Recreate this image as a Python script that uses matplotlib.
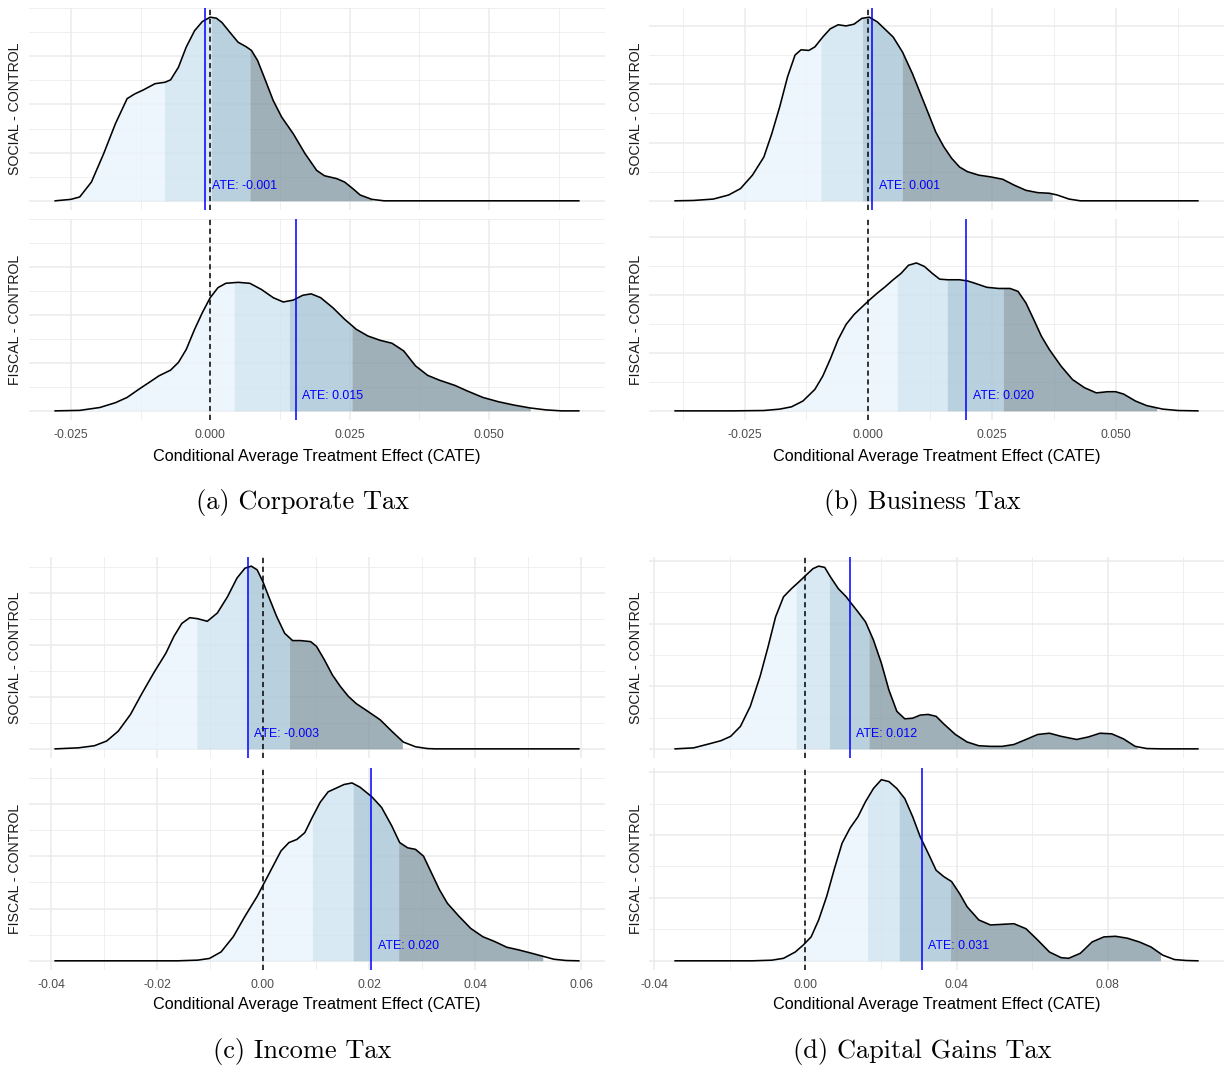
import numpy as np
import matplotlib
matplotlib.use("Agg")
import matplotlib.pyplot as plt

# ---------------- data ----------------
# (a) Corporate Tax
corp_soc_x = [-0.0278, -0.0250, -0.0234, -0.0213, -0.0191, -0.0170, -0.0149, -0.0135, -0.0120, -0.0099,
              -0.0081, -0.0071, -0.0057, -0.0043, -0.0028, -0.0014, 0.0000, 0.0011, 0.0021, 0.0035,
              0.0050, 0.0064, 0.0074, 0.0085, 0.0099, 0.0113, 0.0128, 0.0149, 0.0170, 0.0191,
              0.0205, 0.0227, 0.0241, 0.0255, 0.0269, 0.0290, 0.0312, 0.0661]
corp_soc_d = [0, 0.3, 0.8, 3.9, 9.8, 16.0, 21.2, 22.2, 23.0, 24.3,
              24.6, 25.1, 27.7, 31.9, 35.3, 37.2, 38.1, 37.9, 37.0, 35.0,
              32.9, 32.0, 31.2, 29.1, 25.0, 20.8, 17.4, 13.9, 9.8, 6.3,
              5.2, 4.6, 3.9, 2.6, 1.2, 0.3, 0, 0]
corp_soc_q = [-0.0082, 0.0002, 0.0071]
corp_soc_end = 0.0290
corp_soc_ate = -0.0009

corp_fis_x = [-0.0278, -0.0234, -0.0198, -0.0170, -0.0149, -0.0128, -0.0106, -0.0092, -0.0071, -0.0057,
              -0.0043, -0.0028, -0.0014, 0.0000, 0.0014, 0.0028, 0.0050, 0.0071, 0.0092, 0.0113,
              0.0131, 0.0149, 0.0166, 0.0181, 0.0198, 0.0220, 0.0241, 0.0262, 0.0283, 0.0305,
              0.0326, 0.0347, 0.0368, 0.0390, 0.0411, 0.0439, 0.0460, 0.0489, 0.0517, 0.0545,
              0.0574, 0.0602, 0.0630, 0.0661]
corp_fis_d = [0, 0.1, 0.7, 1.7, 2.8, 4.5, 6.2, 7.3, 8.5, 10.1,
              12.8, 17.0, 20.5, 23.6, 25.7, 26.6, 26.8, 26.6, 25.3, 23.6,
              22.7, 23.1, 24.1, 24.4, 23.6, 21.5, 19.1, 17.0, 15.6, 14.7,
              14.1, 12.5, 9.4, 7.4, 6.4, 5.3, 4.2, 2.8, 1.9, 1.2,
              0.6, 0.2, 0, 0]
corp_fis_q = [0.0043, 0.0142, 0.0254]
corp_fis_end = 0.0574
corp_fis_ate = 0.0153

corp_ticks = [-0.025, 0.0, 0.025, 0.05]
corp_ticklabels = ["-0.025", "0.000", "0.025", "0.050"]
corp_minor = [-0.0125, 0.0125, 0.0375, 0.0625]

# (b) Business Tax
bus_soc_x = [-0.0390, -0.0353, -0.0313, -0.0282, -0.0258, -0.0234, -0.0211, -0.0195, -0.0179, -0.0163,
             -0.0148, -0.0136, -0.0120, -0.0108, -0.0092, -0.0077, -0.0061, -0.0045, -0.0029, -0.0013,
             0.0002, 0.0018, 0.0034, 0.0050, 0.0069, 0.0089, 0.0105, 0.0121, 0.0136, 0.0152,
             0.0168, 0.0184, 0.0200, 0.0223, 0.0247, 0.0271, 0.0294, 0.0318, 0.0342, 0.0365,
             0.0381, 0.0405, 0.0428, 0.0665]
bus_soc_d = [0, 0.06, 0.3, 1.0, 2.1, 4.4, 7.5, 11.5, 16.1, 21.3,
             25.0, 25.9, 25.8, 26.4, 28.1, 29.5, 30.2, 30.0, 30.3, 31.3,
             31.5, 30.7, 29.4, 28.1, 25.5, 21.8, 18.4, 15.0, 11.8, 9.3,
             7.3, 5.8, 5.0, 4.4, 4.1, 3.7, 2.7, 1.8, 1.4, 1.3,
             1.0, 0.3, 0, 0]
bus_soc_q = [-0.0096, -0.0012, 0.0068]
bus_soc_end = 0.0371
bus_soc_ate = 0.0008

bus_fis_x = [-0.0390, -0.0274, -0.0211, -0.0179, -0.0155, -0.0132, -0.0108, -0.0092, -0.0077, -0.0061,
             -0.0045, -0.0029, -0.0013, 0.0002, 0.0018, 0.0034, 0.0050, 0.0066, 0.0081, 0.0097,
             0.0113, 0.0129, 0.0144, 0.0160, 0.0184, 0.0200, 0.0215, 0.0239, 0.0263, 0.0286,
             0.0302, 0.0318, 0.0334, 0.0349, 0.0365, 0.0389, 0.0412, 0.0436, 0.0460, 0.0483,
             0.0499, 0.0515, 0.0539, 0.0562, 0.0594, 0.0625, 0.0665]
bus_fis_d = [0, 0, 0.06, 0.3, 0.7, 1.7, 3.7, 6.0, 8.9, 12.3,
             14.9, 16.6, 17.9, 19.1, 20.3, 21.4, 22.6, 23.7, 25.1, 25.5,
             24.9, 23.7, 22.7, 22.6, 22.6, 22.4, 22.0, 21.3, 21.1, 21.1,
             20.6, 18.6, 15.7, 12.9, 10.6, 7.7, 5.4, 4.0, 3.1, 3.3,
             3.3, 2.9, 1.7, 0.9, 0.3, 0.06, 0]
bus_fis_q = [0.0058, 0.0159, 0.0272]
bus_fis_end = 0.0582
bus_fis_ate = 0.0198

bus_ticks = [-0.025, 0.0, 0.025, 0.05]
bus_ticklabels = ["-0.025", "0.000", "0.025", "0.050"]
bus_minor = [-0.0375, -0.0125, 0.0125, 0.0375, 0.0625]

# (c) Income Tax
inc_soc_x = [-0.0392, -0.0348, -0.0318, -0.0295, -0.0273, -0.0250, -0.0228, -0.0206, -0.0183, -0.0168,
             -0.0153, -0.0138, -0.0123, -0.0105, -0.0086, -0.0067, -0.0049, -0.0034, -0.0022, -0.0011,
             0.0000, 0.0011, 0.0026, 0.0041, 0.0056, 0.0071, 0.0090, 0.0101, 0.0116, 0.0131,
             0.0146, 0.0161, 0.0176, 0.0198, 0.0221, 0.0243, 0.0265, 0.0288, 0.0310, 0.0325,
             0.0596]
inc_soc_d = [0, 0.2, 0.6, 1.5, 3.4, 6.6, 10.7, 14.6, 18.4, 21.6,
             24.1, 25.2, 25.0, 24.5, 26.1, 29.2, 32.8, 34.7, 35.1, 34.4,
             32.1, 29.2, 25.4, 22.2, 20.8, 20.8, 20.6, 19.7, 17.1, 14.2,
             12.0, 10.1, 8.7, 7.2, 5.6, 3.4, 1.3, 0.4, 0.06, 0,
             0]
inc_soc_q = [-0.0125, -0.0028, 0.0050]
inc_soc_end = 0.0263
inc_soc_ate = -0.0029

inc_fis_x = [-0.0392, -0.0161, -0.0123, -0.0101, -0.0079, -0.0056, -0.0034, -0.0011, 0.0004, 0.0019,
             0.0034, 0.0049, 0.0064, 0.0079, 0.0093, 0.0108, 0.0123, 0.0138, 0.0153, 0.0168,
             0.0183, 0.0206, 0.0224, 0.0243, 0.0258, 0.0273, 0.0288, 0.0303, 0.0318, 0.0333,
             0.0348, 0.0370, 0.0392, 0.0415, 0.0437, 0.0460, 0.0482, 0.0505, 0.0527, 0.0549,
             0.0572, 0.0596]
inc_fis_d = [0, 0, 0.13, 0.45, 1.7, 4.6, 8.5, 12.3, 15.2, 18.1,
             21.0, 22.6, 23.2, 24.5, 27.4, 30.3, 32.3, 33.0, 33.7, 34.0,
             33.2, 31.3, 29.3, 25.8, 22.6, 21.6, 21.3, 20.0, 16.8, 13.6,
             11.0, 8.5, 6.2, 4.6, 3.7, 2.6, 2.1, 1.5, 0.9, 0.3,
             0.06, 0]
inc_fis_q = [0.0093, 0.0170, 0.0256]
inc_fis_end = 0.0528
inc_fis_ate = 0.0204

inc_ticks = [-0.04, -0.02, 0.0, 0.02, 0.04, 0.06]
inc_ticklabels = ["-0.04", "-0.02", "0.00", "0.02", "0.04", "0.06"]
inc_minor = [-0.03, -0.01, 0.01, 0.03, 0.05]

# (d) Capital Gains Tax
cap_soc_x = [-0.0345, -0.0296, -0.0255, -0.0224, -0.0198, -0.0172, -0.0146, -0.0120, -0.0099, -0.0079,
             -0.0058, -0.0037, -0.0017, 0.0004, 0.0020, 0.0035, 0.0051, 0.0066, 0.0087, 0.0108,
             0.0118, 0.0139, 0.0159, 0.0180, 0.0201, 0.0221, 0.0242, 0.0263, 0.0284, 0.0304,
             0.0325, 0.0346, 0.0366, 0.0397, 0.0428, 0.0459, 0.0490, 0.0521, 0.0552, 0.0584,
             0.0615, 0.0646, 0.0677, 0.0718, 0.0749, 0.0780, 0.0811, 0.0842, 0.0873, 0.0904,
             0.0946, 0.1039]
cap_soc_d = [0, 0.16, 0.8, 1.3, 2.0, 3.6, 6.8, 11.6, 16.3, 21.1,
             24.3, 25.6, 26.7, 27.9, 28.8, 29.2, 29.0, 27.5, 25.6, 24.3,
             23.5, 21.9, 20.3, 17.4, 13.7, 9.4, 6.0, 4.8, 4.9, 5.4,
             5.5, 5.2, 4.0, 2.3, 1.1, 0.5, 0.4, 0.4, 0.7, 1.5,
             2.3, 2.5, 2.0, 1.5, 1.9, 2.5, 2.4, 1.6, 0.4, 0.05,
             0, 0]
cap_soc_q = [-0.0025, 0.0063, 0.0168]
cap_soc_end = 0.0878
cap_soc_ate = 0.0117

cap_fis_x = [-0.0345, -0.0141, -0.0089, -0.0058, -0.0027, -0.0006, 0.0015, 0.0035, 0.0056, 0.0077,
             0.0097, 0.0118, 0.0139, 0.0159, 0.0180, 0.0201, 0.0221, 0.0242, 0.0263, 0.0284,
             0.0304, 0.0325, 0.0346, 0.0366, 0.0387, 0.0408, 0.0428, 0.0459, 0.0490, 0.0521,
             0.0552, 0.0584, 0.0615, 0.0646, 0.0677, 0.0697, 0.0728, 0.0759, 0.0790, 0.0821,
             0.0852, 0.0884, 0.0915, 0.0946, 0.0977, 0.1008, 0.1039]
cap_fis_d = [0, 0, 0.1, 0.4, 1.4, 2.5, 3.8, 6.5, 10.2, 14.7,
             18.7, 21.1, 22.9, 25.3, 27.4, 28.8, 28.5, 27.4, 25.8, 22.9,
             19.7, 17.1, 14.4, 13.4, 12.6, 10.7, 8.6, 6.5, 5.7, 5.8,
             5.9, 5.1, 3.3, 1.4, 0.5, 0.4, 1.2, 3.0, 3.8, 3.9,
             3.6, 3.0, 2.2, 0.9, 0.2, 0.05, 0]
cap_fis_q = [0.0164, 0.0248, 0.0384]
cap_fis_end = 0.0940
cap_fis_ate = 0.0308

cap_ticks = [-0.04, 0.0, 0.04, 0.08]
cap_ticklabels = ["-0.04", "0.00", "0.04", "0.08"]
cap_minor = [-0.02, 0.02, 0.06, 0.10]

facet_labels = ["SOCIAL - CONTROL", "FISCAL - CONTROL"]
captions = ["(a) Corporate Tax", "(b) Business Tax", "(c) Income Tax", "(d) Capital Gains Tax"]
x_title = "Conditional Average Treatment Effect (CATE)"
y_major = [0, 10, 20, 30, 40]
y_minor = [5, 15, 25, 35]

# ---------------- styling ----------------
W, H = 1229, 1070
SANS = ['Liberation Sans', 'DejaVu Sans']
BAND_COLORS = ['#EAF4FD', '#D0E4F1', '#A8C6D7', '#889CA6']
BAND_ALPHA = 0.8
GRID = '#EBEBEB'
BLUE = '#0000FF'

fig = plt.figure(figsize=(W / 100, H / 100), dpi=100)


def add_ax(x0, y0, x1, y1):
    return fig.add_axes([x0 / W, 1 - y1 / H, (x1 - x0) / W, (y1 - y0) / H])


panels = [
    dict(cap=captions[0], cols=(29, 605), sub=(0, 605),
         curves=[(corp_soc_x, corp_soc_d, corp_soc_q, corp_soc_end, corp_soc_ate),
                 (corp_fis_x, corp_fis_d, corp_fis_q, corp_fis_end, corp_fis_ate)],
         ticks=corp_ticks, labels=corp_ticklabels, minor=corp_minor, row=0),
    dict(cap=captions[1], cols=(649, 1224), sub=(620, 1224),
         curves=[(bus_soc_x, bus_soc_d, bus_soc_q, bus_soc_end, bus_soc_ate),
                 (bus_fis_x, bus_fis_d, bus_fis_q, bus_fis_end, bus_fis_ate)],
         ticks=bus_ticks, labels=bus_ticklabels, minor=bus_minor, row=0),
    dict(cap=captions[2], cols=(29, 605), sub=(0, 605),
         curves=[(inc_soc_x, inc_soc_d, inc_soc_q, inc_soc_end, inc_soc_ate),
                 (inc_fis_x, inc_fis_d, inc_fis_q, inc_fis_end, inc_fis_ate)],
         ticks=inc_ticks, labels=inc_ticklabels, minor=inc_minor, row=1),
    dict(cap=captions[3], cols=(649, 1224), sub=(620, 1224),
         curves=[(cap_soc_x, cap_soc_d, cap_soc_q, cap_soc_end, cap_soc_ate),
                 (cap_fis_x, cap_fis_d, cap_fis_q, cap_fis_end, cap_fis_ate)],
         ticks=cap_ticks, labels=cap_ticklabels, minor=cap_minor, row=1),
]

row_facets = [[(8, 210), (219, 420)], [(557, 758), (768, 970)]]
row_title_y = [456, 1005]
row_caption_y = [502, 1051.5]

for p in panels:
    x0, x1 = p['cols']
    xs_all = [np.asarray(c[0]) for c in p['curves']]
    lo = min(a[0] for a in xs_all)
    hi = max(a[-1] for a in xs_all)
    span = hi - lo
    xlim = (lo - 0.05 * span, hi + 0.05 * span)
    ymax = max(max(c[1]) for c in p['curves'])
    ylim = (-0.05 * ymax, 1.05 * ymax)

    for k, (cx, cd, q, end, ate) in enumerate(p['curves']):
        fy0, fy1 = row_facets[p['row']][k]
        ax = add_ax(x0, fy0, x1, fy1)
        cx = np.asarray(cx, float)
        cd = np.asarray(cd, float)
        for s in ax.spines.values():
            s.set_visible(False)
        ax.set_xticks(p['ticks'])
        ax.set_xticks(p['minor'], minor=True)
        ax.set_yticks(y_major)
        ax.set_yticks(y_minor, minor=True)
        ax.set_xlim(*xlim)
        ax.set_ylim(*ylim)
        ax.grid(which='major', color=GRID, lw=1.1)
        ax.grid(which='minor', color=GRID, lw=0.55)
        ax.set_axisbelow(True)
        ax.tick_params(which='both', length=0, labelleft=False)
        if k == 1:
            ax.set_xticklabels(p['labels'], fontsize=8.8, color='#4D4D4D', family=SANS)
            ax.tick_params(axis='x', pad=6.3)
        else:
            ax.tick_params(axis='x', labelbottom=False)

        edges = [cx[0]] + list(q) + [end]
        for i in range(4):
            a, b = edges[i], edges[i + 1]
            inner = cx[(cx > a) & (cx < b)]
            xs = np.concatenate([[a], inner, [b]])
            ys = np.interp(xs, cx, cd)
            ax.fill_between(xs, ys, 0, color=BAND_COLORS[i], alpha=BAND_ALPHA, lw=0, zorder=1)
        ax.plot(cx, cd, color='black', lw=1.15, zorder=3, solid_joinstyle='round')
        ax.axvline(0, color='black', ls=(0, (3.4, 2.4)), lw=1.1, zorder=4)
        ax.axvline(ate, color=BLUE, lw=1.1, zorder=4)
        ax.annotate(f"ATE: {ate:.3f}", xy=(ate, 0), xycoords='data',
                    xytext=(4.7, 10.8), textcoords='offset points',
                    ha='left', va='center', color=BLUE, fontsize=8.9, family=SANS, zorder=5)

        yc = (fy0 + fy1) / 2
        fig.text((x0 - 13.5) / W, 1 - yc / H, facet_labels[k], rotation=90,
                 ha='center', va='center', fontsize=10.2, color='#1A1A1A', family=SANS)

    fig.text((x0 + x1) / 2 / W, 1 - row_title_y[p['row']] / H, x_title,
             ha='center', va='center', fontsize=11.7, color='black', family=SANS)
    sx0, sx1 = p['sub']
    fig.text((sx0 + sx1) / 2 / W, 1 - row_caption_y[p['row']] / H, p['cap'],
             ha='center', va='center', fontsize=19, color='black', family='cmr10')

fig.savefig('out.png', dpi=100)
